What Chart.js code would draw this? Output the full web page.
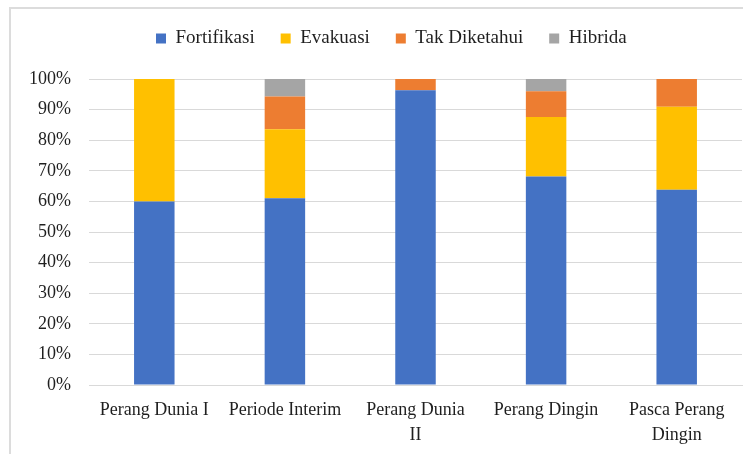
<!DOCTYPE html>
<html>
<head>
<meta charset="utf-8">
<script src="https://cdn.jsdelivr.net/npm/chart.js@4.4.0/dist/chart.umd.min.js"></script>
<style>
html, body { margin:0; padding:0; background:#fff; }
#frame { position:absolute; left:9px; top:7px; width:800px; height:500px; border:2px solid #dcdcdc; }
#wrap { position:absolute; left:0; top:0; width:743px; height:454px; }
</style>
</head>
<body>
<div id="frame"></div>
<div id="wrap"><canvas id="StackChart"></canvas></div>
<script>
const CATEGORIES = [
    'Perang Dunia I',
    'Periode Interim',
    ['Perang Dunia', 'II'],
    'Perang Dingin',
    ['Pasca Perang', 'Dingin']
];

const FORTIFIKASI   = [60, 61, 96.3, 68.1, 63.8];
const EVAKUASI      = [40, 22.6, 0, 19.5, 27.1];
const TAK_DIKETAHUI = [0, 10.7, 3.7, 8.4, 9.1];
const HIBRIDA       = [0, 5.7, 0, 4, 0];

const Y_TICKS = [0, 10, 20, 30, 40, 50, 60, 70, 80, 90, 100];

const FONT = 'Liberation Serif';
const TEXT_COLOR = '#1f1f1f';
const GRID_COLOR = '#d9d9d9';

// legend sits left of centre in the original, and has extra room under it
const legendPlacer = {
    id: 'legendPlacer',
    beforeInit(chart) {
        const origFit = chart.legend.fit;
        chart.legend.fit = function(){
            origFit.bind(chart.legend)();
            this.height = 76;
        };
    },
    afterLayout(chart) {
        chart.legend.left = 130;
    }
};

window.onload = function(){
    let ctx = document.getElementById('StackChart').getContext('2d');

    window.StackChart = new Chart(ctx, {
        type: 'bar',
        data: {
            labels: CATEGORIES,
            datasets: [
                { label: 'Fortifikasi',   data: FORTIFIKASI,   backgroundColor: '#4472c4' },
                { label: 'Evakuasi',      data: EVAKUASI,      backgroundColor: '#ffc000' },
                { label: 'Tak Diketahui', data: TAK_DIKETAHUI, backgroundColor: '#ed7d31' },
                { label: 'Hibrida',       data: HIBRIDA,       backgroundColor: '#a5a5a5' }
            ]
        },
        plugins: [legendPlacer],
        options: {
            responsive: true,
            maintainAspectRatio: false,
            animation: false,
            layout: {
                padding: { left: 0, right: 1, top: 3, bottom: 0 }
            },
            datasets: {
                bar: {
                    categoryPercentage: 1,
                    barPercentage: 0.31
                }
            },
            plugins: {
                tooltip: { enabled: false },
                legend: {
                    position: 'top',
                    align: 'start',
                    labels: {
                        font: { family: FONT, size: 19 },
                        color: TEXT_COLOR,
                        boxWidth: 10,
                        boxHeight: 10,
                        padding: 26
                    }
                }
            },
            scales: {
                x: {
                    stacked: true,
                    grid: { display: false },
                    border: { color: GRID_COLOR },
                    ticks: {
                        font: { family: FONT, size: 18, lineHeight: 1.39 },
                        color: TEXT_COLOR,
                        padding: 5,
                        maxRotation: 0,
                        minRotation: 0,
                        autoSkip: false
                    },
                    afterFit: function(scale){ scale.height = 69; }
                },
                y: {
                    stacked: true,
                    min: 0,
                    max: 100,
                    afterBuildTicks: function(scale){
                        scale.ticks = Y_TICKS.map(v => ({ value: v }));
                    },
                    grid: { color: GRID_COLOR, drawTicks: false },
                    border: { display: false },
                    ticks: {
                        font: { family: FONT, size: 18 },
                        color: TEXT_COLOR,
                        padding: 18,
                        callback: v => v + '%'
                    },
                    afterFit: function(scale){ scale.width = 89; }
                }
            }
        }
    });
};
</script>
</body>
</html>
